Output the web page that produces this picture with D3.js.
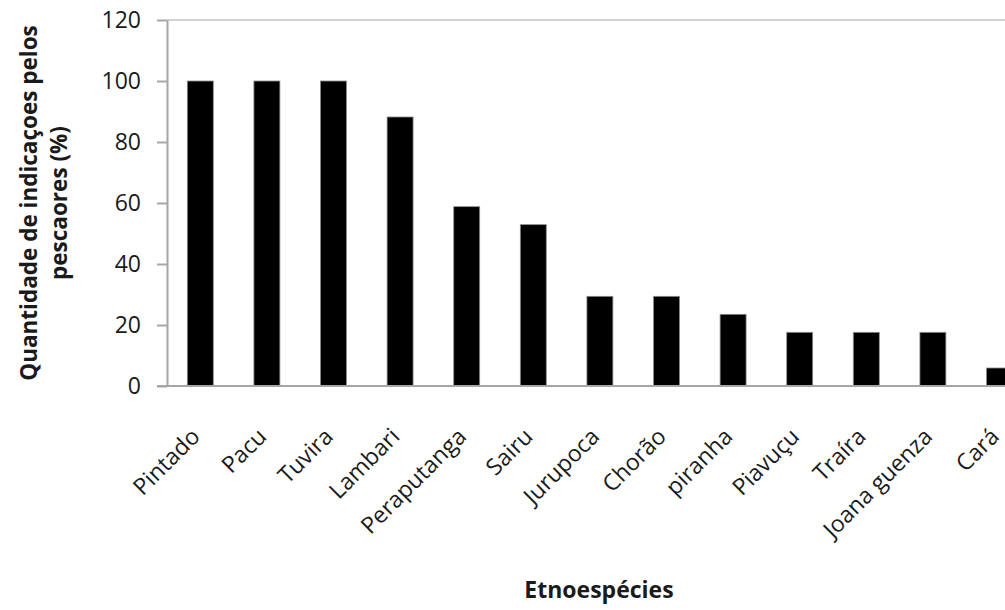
<!DOCTYPE html>
<html>
<head>
<meta charset="utf-8">
<script src="https://cdn.jsdelivr.net/npm/d3@7"></script>
<style>
  body { margin: 0; background: #fff; }
  text { font-family: "Open Sans", "DejaVu Sans", sans-serif; fill: #1a1a1a; }
</style>
</head>
<body>
<div id="chart"></div>
<script>
const species = ['Pintado', 'Pacu', 'Tuvira', 'Lambari', 'Peraputanga', 'Sairu', 'Jurupoca',
  'Chorão', 'piranha', 'Piavuçu', 'Traíra', 'Joana guenza', 'Cará'];
const percent = [100, 100, 100, 88.2, 58.8, 52.9, 29.4, 29.4, 23.5, 17.6, 17.6, 17.6, 5.9];
const yTicks = [0, 20, 40, 60, 80, 100, 120];

const W = 1005, H = 610;
const plotLeft = 167, plotTop = 20, plotBottom = 386;
const step = 66.6;

const svg = d3.select('#chart').append('svg')
  .attr('width', W)
  .attr('height', H);

const x = d3.scaleBand()
  .domain(species)
  .range([plotLeft, plotLeft + step * species.length])
  .paddingInner(0.61)
  .paddingOuter(0.305);

const y = d3.scaleLinear()
  .domain([0, 120])
  .range([plotBottom, plotTop]);

// top border line at 120
svg.append('line')
  .attr('x1', plotLeft).attr('x2', W)
  .attr('y1', y(120)).attr('y2', y(120))
  .attr('stroke', '#a6a6a6')
  .attr('stroke-width', 1);

svg.selectAll('.bar')
  .data(species)
  .enter().append('rect')
  .attr('class', 'bar')
  .attr('x', d => x(d))
  .attr('y', (d, i) => y(percent[i]))
  .attr('width', x.bandwidth())
  .attr('height', (d, i) => plotBottom - y(percent[i]))
  .attr('fill', '#000')
  .attr('stroke', '#8c8c8c')
  .attr('stroke-width', 0.8);

const yAxis = svg.append('g')
  .attr('transform', 'translate(' + plotLeft + ',0)')
  .call(d3.axisLeft(y).tickValues(yTicks).tickSize(10).tickPadding(16).tickSizeOuter(0));
yAxis.select('.domain').attr('stroke', '#a6a6a6').attr('stroke-width', 2);
yAxis.selectAll('.tick line').attr('stroke', '#a6a6a6').attr('stroke-width', 2);
yAxis.selectAll('.tick text')
  .attr('font-size', 23)
  .style('font-family', '"Open Sans", sans-serif')
  .attr('fill', '#1a1a1a');

// x baseline
svg.append('line')
  .attr('x1', plotLeft - 10).attr('x2', W)
  .attr('y1', plotBottom).attr('y2', plotBottom)
  .attr('stroke', '#a6a6a6')
  .attr('stroke-width', 2);

svg.selectAll('.cat')
  .data(species)
  .enter().append('text')
  .attr('class', 'cat')
  .attr('text-anchor', 'end')
  .attr('font-size', 23)
  .attr('transform', d => 'translate(' + (x(d) + x.bandwidth() / 2 + 1) + ',' + 438 + ') rotate(-45)')
  .text(d => d);

svg.append('text')
  .attr('x', 599)
  .attr('y', 598)
  .attr('text-anchor', 'middle')
  .attr('font-size', 23)
  .attr('font-weight', 'bold')
  .text('Etnoespécies');

const yTitle = svg.append('text')
  .attr('text-anchor', 'middle')
  .attr('font-size', 22.5)
  .attr('font-weight', 'bold')
  .attr('transform', 'translate(37,' + ((plotTop + plotBottom) / 2) + ') rotate(-90)');
yTitle.append('tspan').attr('x', 0).attr('dy', 0).text('Quantidade de indicaçoes pelos');
yTitle.append('tspan').attr('x', 0).attr('dy', 30).text('pescaores (%)');
</script>
</body>
</html>
